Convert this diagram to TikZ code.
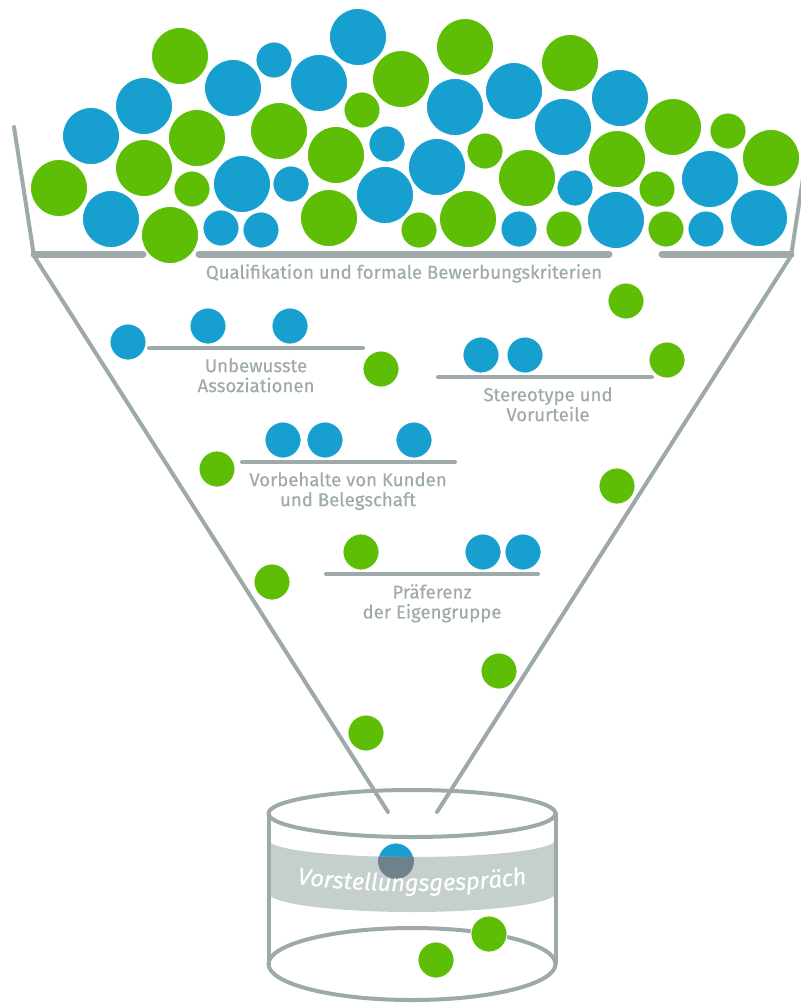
\documentclass[tikz,border=0pt]{standalone}
\usepackage{fontspec}
\setmainfont{Fira Sans}
\newfontfamily\lblfamily{Fira Sans}[FakeBold = 0.35]
\usetikzlibrary{positioning, decorations.text}

\definecolor{ballblue}{RGB}{22,159,207}
\definecolor{ballgreen}{RGB}{94,190,6}
\definecolor{rimgray}{RGB}{158,170,170}
\definecolor{bandgray}{RGB}{197,207,206}
\definecolor{sunkblue}{RGB}{111,129,141}

\newcommand{\lblfont}{\lblfamily\fontsize{18.6pt}{20pt}\selectfont}
\newcommand{\bandfont}{\lblfamily\fontsize{23.7pt}{24pt}\selectfont\itshape}

\tikzset{
	ballB/.style = {fill = ballblue, draw = white, line width = 0.8pt},
	ballG/.style = {fill = ballgreen, draw = white, line width = 0.8pt},
	rim/.style = {draw = rimgray, line width = 4pt, line cap = round, line join = round},
	sieve/.style = {draw = rimgray, line width = 4pt, line cap = round},
	topsieve/.style = {sieve, line width = 7pt},
	lbl/.style = {text = rimgray, font = \lblfont, align = center, inner sep = 0pt}
}

\begin{document}
\begin{tikzpicture}[x = 1pt, y = 1pt]

	\useasboundingbox (0, 0) rectangle (801, -1005);

	\def\rbig{28.5pt}		% Radius of the large balls
	\def\rsmall{18pt}		% Radius of the small balls

	% Funnel outline and top sieve

	\draw [rim] (14, -127) -- (34, -256) -- (388, -812);
	\draw [rim] (811, -127) -- (791, -256) -- (437, -812);

	\draw [topsieve] (34, -254) -- (143, -254);
	\draw [topsieve] (199, -254) -- (609, -254);
	\draw [topsieve] (662, -254) -- (791, -254);

	\node (quali) at (404, -254) [below = 10pt, lbl] {Qualifikation und formale Bewerbungskriterien};

	% Pile of applicants above the funnel

	\foreach \x/\y in {233/88, 319/83, 358/37, 144/106, 91/136, 242/184, 385/195, 111/219,
		514/91, 455/107, 563/127, 620/98, 437/167, 710/179, 616/220, 759/218}
		\draw [ballB] (\x, -\y) circle (\rbig);

	\foreach \x/\y in {274/60, 387/144, 291/184, 221/228, 261/230, 575/188, 519/229, 706/229}
		\draw [ballB] (\x, -\y) circle (\rsmall);

	\foreach \x/\y in {180/56, 401/79, 197/138, 279/131, 144/168, 336/155, 59/188, 170/235,
		329/218, 465/47, 570/63, 673/127, 527/178, 617/159, 771/158, 468/219}
		\draw [ballG] (\x, -\y) circle (\rbig);

	\foreach \x/\y in {362/110, 192/189, 728/131, 485/151, 657/189, 419/230, 564/229, 666/229}
		\draw [ballG] (\x, -\y) circle (\rsmall);

	% Inner sieves with labels

	\draw [sieve] (149, -348) -- (363, -348);
	\draw [sieve] (438, -377) -- (652, -377);
	\draw [sieve] (242, -462) -- (455, -462);
	\draw [sieve] (326, -574) -- (538, -574);

	\node (unbewusst) at (256, -348) [below = 10pt, lbl] {Unbewusste\\Assoziationen};
	\node (stereo) at (548, -377) [below = 10pt, lbl] {Stereotype und\\Vorurteile};
	\node (vorbehalt) at (348, -462) [below = 10pt, lbl] {Vorbehalte von Kunden\\und Belegschaft};
	\node (praeferenz) at (432, -574) [below = 10pt, lbl] {Präferenz\\der Eigengruppe};

	% Balls falling through the funnel

	\foreach \x/\y in {128/342, 208/326, 290/326, 481/355, 525/355, 283/440, 325/440,
		414/440, 483/552, 523/552}
		\draw [ballB] (\x, -\y) circle (\rsmall);

	\foreach \x/\y in {381/369, 626/301, 667/360, 217/469, 617/486, 361/552, 272/582,
		499/671, 366/733}
		\draw [ballG] (\x, -\y) circle (\rsmall);

	% Cylinder with band

	\draw [ballB] (396, -861) circle (\rsmall);

	\fill [bandgray] (268.5, -840) arc (180:360:143.5pt and 17pt)
		-- (555.5, -893) arc (360:180:143.5pt and 19pt) -- cycle;

	\begin{scope}
		\clip (268.5, -840) arc (180:360:143.5pt and 17pt)
			-- (555.5, -893) arc (360:180:143.5pt and 19pt) -- cycle;
		\fill [sunkblue] (396, -861) circle (\rsmall);
	\end{scope}

	\draw [rim] (412, -813.5) ellipse [x radius = 143.5pt, y radius = 23.5pt];
	\draw [rim] (412, -964) ellipse [x radius = 143.5pt, y radius = 36pt];
	\draw [rim] (268.5, -813.5) -- (268.5, -964);
	\draw [rim] (555.5, -813.5) -- (555.5, -964);

	\path [decorate, decoration = {text along path, text align = center, text color = white,
		text = {|\bandfont|Vorstellungsgespräch}}] (269, -873) arc (180:360:143pt and 18pt);

	\draw [ballG] (489, -934) circle (\rsmall);
	\draw [ballG] (436, -960) circle (\rsmall);

\end{tikzpicture}
\end{document}
